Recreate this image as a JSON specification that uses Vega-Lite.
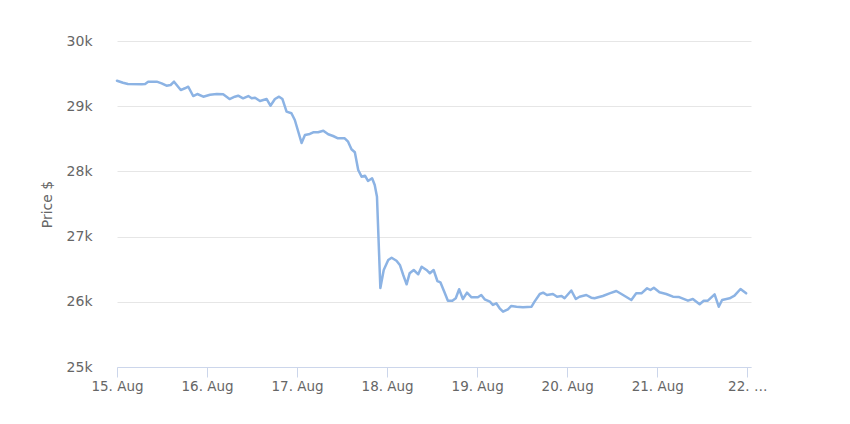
{
  "$schema": "https://vega.github.io/schema/vega-lite/v6.json",
  "width": 634,
  "height": 326,
  "autosize": {"type": "none"},
  "padding": {"left": 117, "top": 41, "right": 99, "bottom": 57},
  "background": "white",
  "config": {
    "font": "DejaVu Sans",
    "view": {"stroke": null}
  },
  "data": {
    "values": [
      {"t": "2023-08-15T00:00Z", "price": 29391},
      {"t": "2023-08-15T01:36Z", "price": 29360},
      {"t": "2023-08-15T02:54Z", "price": 29341},
      {"t": "2023-08-15T06:36Z", "price": 29336},
      {"t": "2023-08-15T07:30Z", "price": 29341},
      {"t": "2023-08-15T08:18Z", "price": 29376},
      {"t": "2023-08-15T10:36Z", "price": 29376},
      {"t": "2023-08-15T11:54Z", "price": 29351},
      {"t": "2023-08-15T13:12Z", "price": 29314},
      {"t": "2023-08-15T14:18Z", "price": 29325},
      {"t": "2023-08-15T15:12Z", "price": 29376},
      {"t": "2023-08-15T17:00Z", "price": 29248},
      {"t": "2023-08-15T18:06Z", "price": 29275},
      {"t": "2023-08-15T19:00Z", "price": 29299},
      {"t": "2023-08-15T20:18Z", "price": 29156},
      {"t": "2023-08-15T21:24Z", "price": 29187},
      {"t": "2023-08-15T23:00Z", "price": 29146},
      {"t": "2023-08-16T00:48Z", "price": 29176},
      {"t": "2023-08-16T02:36Z", "price": 29187},
      {"t": "2023-08-16T04:18Z", "price": 29183},
      {"t": "2023-08-16T06:00Z", "price": 29110},
      {"t": "2023-08-16T07:24Z", "price": 29146},
      {"t": "2023-08-16T08:18Z", "price": 29161},
      {"t": "2023-08-16T09:36Z", "price": 29121},
      {"t": "2023-08-16T11:00Z", "price": 29156},
      {"t": "2023-08-16T11:54Z", "price": 29121},
      {"t": "2023-08-16T12:48Z", "price": 29130},
      {"t": "2023-08-16T14:06Z", "price": 29080},
      {"t": "2023-08-16T15:54Z", "price": 29110},
      {"t": "2023-08-16T16:54Z", "price": 29008},
      {"t": "2023-08-16T18:06Z", "price": 29110},
      {"t": "2023-08-16T19:12Z", "price": 29146},
      {"t": "2023-08-16T20:06Z", "price": 29110},
      {"t": "2023-08-16T21:12Z", "price": 28916},
      {"t": "2023-08-16T22:30Z", "price": 28891},
      {"t": "2023-08-16T23:24Z", "price": 28788},
      {"t": "2023-08-17T01:12Z", "price": 28436},
      {"t": "2023-08-17T02:06Z", "price": 28558},
      {"t": "2023-08-17T03:24Z", "price": 28574},
      {"t": "2023-08-17T04:18Z", "price": 28600},
      {"t": "2023-08-17T05:36Z", "price": 28600},
      {"t": "2023-08-17T07:00Z", "price": 28624},
      {"t": "2023-08-17T08:18Z", "price": 28569},
      {"t": "2023-08-17T09:36Z", "price": 28543},
      {"t": "2023-08-17T10:54Z", "price": 28508},
      {"t": "2023-08-17T12:42Z", "price": 28508},
      {"t": "2023-08-17T13:36Z", "price": 28456},
      {"t": "2023-08-17T14:30Z", "price": 28339},
      {"t": "2023-08-17T15:24Z", "price": 28293},
      {"t": "2023-08-17T16:18Z", "price": 28022},
      {"t": "2023-08-17T17:12Z", "price": 27919},
      {"t": "2023-08-17T18:06Z", "price": 27934},
      {"t": "2023-08-17T18:54Z", "price": 27853},
      {"t": "2023-08-17T20:00Z", "price": 27894},
      {"t": "2023-08-17T20:42Z", "price": 27791},
      {"t": "2023-08-17T21:18Z", "price": 27612},
      {"t": "2023-08-17T22:12Z", "price": 26212},
      {"t": "2023-08-17T23:06Z", "price": 26488},
      {"t": "2023-08-18T00:18Z", "price": 26641},
      {"t": "2023-08-18T01:12Z", "price": 26676},
      {"t": "2023-08-18T02:30Z", "price": 26630},
      {"t": "2023-08-18T03:24Z", "price": 26565},
      {"t": "2023-08-18T04:18Z", "price": 26411},
      {"t": "2023-08-18T05:12Z", "price": 26268},
      {"t": "2023-08-18T06:00Z", "price": 26437},
      {"t": "2023-08-18T07:06Z", "price": 26488},
      {"t": "2023-08-18T08:18Z", "price": 26422},
      {"t": "2023-08-18T09:12Z", "price": 26538},
      {"t": "2023-08-18T10:30Z", "price": 26488},
      {"t": "2023-08-18T11:24Z", "price": 26437},
      {"t": "2023-08-18T12:24Z", "price": 26488},
      {"t": "2023-08-18T13:24Z", "price": 26319},
      {"t": "2023-08-18T14:12Z", "price": 26299},
      {"t": "2023-08-18T15:24Z", "price": 26130},
      {"t": "2023-08-18T16:12Z", "price": 26017},
      {"t": "2023-08-18T17:24Z", "price": 26017},
      {"t": "2023-08-18T18:18Z", "price": 26054},
      {"t": "2023-08-18T19:12Z", "price": 26192},
      {"t": "2023-08-18T20:12Z", "price": 26043},
      {"t": "2023-08-18T21:18Z", "price": 26140},
      {"t": "2023-08-18T22:30Z", "price": 26069},
      {"t": "2023-08-19T00:12Z", "price": 26069},
      {"t": "2023-08-19T01:06Z", "price": 26104},
      {"t": "2023-08-19T02:00Z", "price": 26038},
      {"t": "2023-08-19T03:24Z", "price": 26002},
      {"t": "2023-08-19T04:12Z", "price": 25951},
      {"t": "2023-08-19T05:06Z", "price": 25977},
      {"t": "2023-08-19T06:00Z", "price": 25900},
      {"t": "2023-08-19T06:54Z", "price": 25848},
      {"t": "2023-08-19T08:12Z", "price": 25885},
      {"t": "2023-08-19T09:06Z", "price": 25936},
      {"t": "2023-08-19T10:30Z", "price": 25925},
      {"t": "2023-08-19T12:12Z", "price": 25916},
      {"t": "2023-08-19T14:30Z", "price": 25925},
      {"t": "2023-08-19T15:18Z", "price": 26002},
      {"t": "2023-08-19T16:42Z", "price": 26120},
      {"t": "2023-08-19T17:36Z", "price": 26140},
      {"t": "2023-08-19T18:36Z", "price": 26104},
      {"t": "2023-08-19T20:12Z", "price": 26120},
      {"t": "2023-08-19T21:18Z", "price": 26078},
      {"t": "2023-08-19T22:30Z", "price": 26089},
      {"t": "2023-08-19T23:18Z", "price": 26054},
      {"t": "2023-08-20T01:06Z", "price": 26173},
      {"t": "2023-08-20T02:18Z", "price": 26043},
      {"t": "2023-08-20T03:18Z", "price": 26078},
      {"t": "2023-08-20T05:06Z", "price": 26104},
      {"t": "2023-08-20T06:24Z", "price": 26063},
      {"t": "2023-08-20T07:18Z", "price": 26054},
      {"t": "2023-08-20T09:30Z", "price": 26089},
      {"t": "2023-08-20T11:18Z", "price": 26130},
      {"t": "2023-08-20T13:06Z", "price": 26166},
      {"t": "2023-08-20T14:54Z", "price": 26104},
      {"t": "2023-08-20T17:06Z", "price": 26028},
      {"t": "2023-08-20T18:24Z", "price": 26130},
      {"t": "2023-08-20T19:48Z", "price": 26130},
      {"t": "2023-08-20T21:18Z", "price": 26207},
      {"t": "2023-08-20T22:12Z", "price": 26181},
      {"t": "2023-08-20T23:06Z", "price": 26216},
      {"t": "2023-08-21T00:36Z", "price": 26146},
      {"t": "2023-08-21T02:24Z", "price": 26120},
      {"t": "2023-08-21T04:12Z", "price": 26078},
      {"t": "2023-08-21T05:42Z", "price": 26075},
      {"t": "2023-08-21T08:12Z", "price": 26017},
      {"t": "2023-08-21T09:30Z", "price": 26043},
      {"t": "2023-08-21T11:18Z", "price": 25962},
      {"t": "2023-08-21T12:24Z", "price": 26017},
      {"t": "2023-08-21T13:30Z", "price": 26017},
      {"t": "2023-08-21T15:18Z", "price": 26115},
      {"t": "2023-08-21T16:24Z", "price": 25925},
      {"t": "2023-08-21T17:18Z", "price": 26028},
      {"t": "2023-08-21T19:18Z", "price": 26054},
      {"t": "2023-08-21T20:36Z", "price": 26094},
      {"t": "2023-08-21T22:12Z", "price": 26196},
      {"t": "2023-08-21T23:42Z", "price": 26130}
    ]
  },
  "mark": {"type": "line", "color": "#8cb3e4", "strokeWidth": 2.5, "strokeJoin": "round", "strokeCap": "round"},
  "encoding": {
    "x": {
      "field": "t",
      "type": "temporal",
      "scale": {
        "type": "utc",
        "domain": [
          {"year": 2023, "month": 8, "date": 15, "hours": 0, "utc": true},
          {"year": 2023, "month": 8, "date": 22, "hours": 1, "utc": true}
        ]
      },
      "axis": {
        "title": null,
        "grid": false,
        "values": [
          {"year": 2023, "month": 8, "date": 15, "utc": true},
          {"year": 2023, "month": 8, "date": 16, "utc": true},
          {"year": 2023, "month": 8, "date": 17, "utc": true},
          {"year": 2023, "month": 8, "date": 18, "utc": true},
          {"year": 2023, "month": 8, "date": 19, "utc": true},
          {"year": 2023, "month": 8, "date": 20, "utc": true},
          {"year": 2023, "month": 8, "date": 21, "utc": true},
          {"year": 2023, "month": 8, "date": 22, "utc": true}
        ],
        "labelExpr": "utcdate(datum.value) == 22 ? '22. …' : utcFormat(datum.value, '%-d. %b')",
        "labelOverlap": false,
        "labelBound": false,
        "labelFlush": false,
        "domainColor": "#ccd6eb",
        "tickColor": "#ccd6eb",
        "tickSize": 10,
        "labelPadding": 2,
        "labelColor": "#666666",
        "labelFontSize": 13.5
      }
    },
    "y": {
      "field": "price",
      "type": "quantitative",
      "scale": {"domain": [25000, 30000], "nice": false, "zero": false},
      "axis": {
        "title": "Price $",
        "titleColor": "#666666",
        "titleFontSize": 14,
        "titleFontWeight": "normal",
        "titlePadding": 12,
        "values": [25000, 26000, 27000, 28000, 29000, 30000],
        "labelExpr": "datum.value / 1000 + 'k'",
        "labelColor": "#666666",
        "labelFontSize": 14,
        "labelPadding": 25,
        "domain": false,
        "ticks": false,
        "tickSize": 0,
        "grid": true,
        "gridColor": "#e6e6e6",
        "gridWidth": 1
      }
    }
  }
}
